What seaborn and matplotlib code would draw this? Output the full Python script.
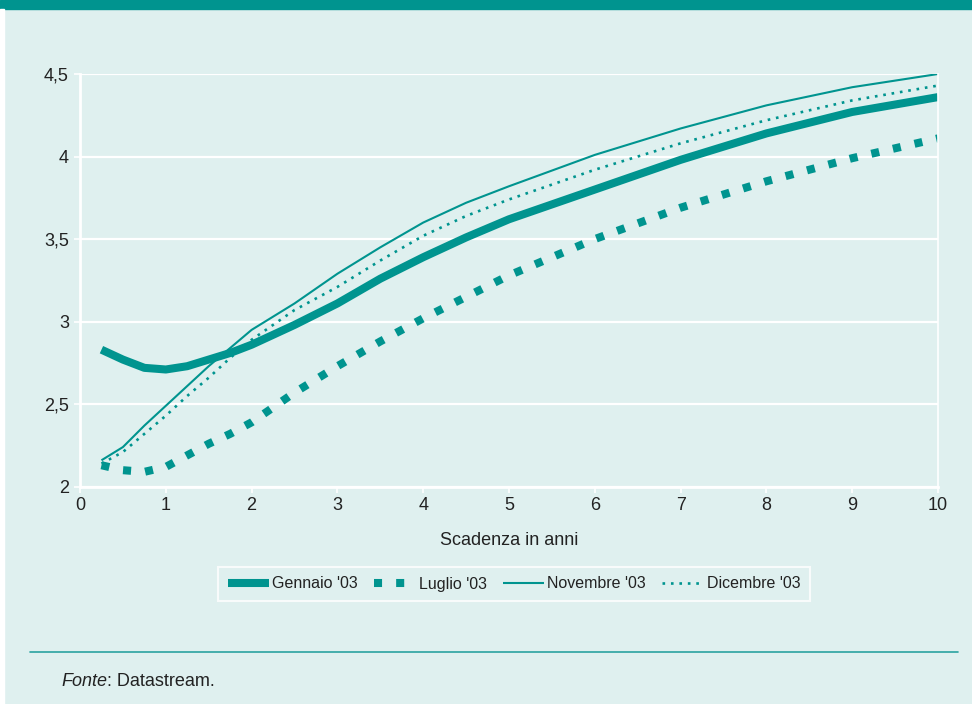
import pandas as pd
import seaborn as sns
import matplotlib.pyplot as plt
from matplotlib.patches import Rectangle
from matplotlib.lines import Line2D

# scadenze in anni
scadenze = [0.25, 0.5, 0.75, 1, 1.25, 1.5, 1.75, 2, 2.5, 3, 3.5, 4, 4.5, 5, 6, 7, 8, 9, 10]

gennaio = [2.83, 2.77, 2.72, 2.71, 2.73, 2.77, 2.81, 2.86, 2.98, 3.11, 3.26, 3.39, 3.51, 3.62, 3.80, 3.98, 4.14, 4.27, 4.36]
luglio = [2.13, 2.10, 2.09, 2.12, 2.19, 2.26, 2.32, 2.39, 2.57, 2.73, 2.88, 3.02, 3.15, 3.28, 3.50, 3.69, 3.85, 3.99, 4.11]
novembre = [2.16, 2.24, 2.37, 2.49, 2.61, 2.73, 2.84, 2.95, 3.11, 3.29, 3.45, 3.60, 3.72, 3.82, 4.01, 4.17, 4.31, 4.42, 4.50]
dicembre = [2.14, 2.21, 2.32, 2.43, 2.55, 2.66, 2.78, 2.89, 3.07, 3.21, 3.37, 3.52, 3.64, 3.74, 3.92, 4.08, 4.22, 4.34, 4.43]

etichette = ["Gennaio '03", "Luglio '03", "Novembre '03", "Dicembre '03"]
serie = [gennaio, luglio, novembre, dicembre]

teal = '#00948f'
bg = '#dff0ef'
txt = '#222222'

sns.set_style('white')
plt.rcParams['font.family'] = ['Liberation Sans', 'DejaVu Sans']

fig = plt.figure(figsize=(9.72, 7.04), dpi=100, facecolor=bg)
# banda in alto e striscia a sinistra
fig.patches.append(Rectangle((0, 1 - 9 / 704), 1, 9 / 704, transform=fig.transFigure, color=teal, zorder=0))
fig.patches.append(Rectangle((0, 0), 4 / 972, 1 - 9 / 704, transform=fig.transFigure, color='white', zorder=0))

ax = fig.add_axes([80 / 972, 1 - 486.7 / 704, (938 - 80) / 972, (486.7 - 74) / 704])
ax.set_facecolor(bg)

stili = [
    dict(lw=5.8, linestyle='-'),
    dict(lw=5.8, linestyle=(0, (1, 1.75))),
    dict(lw=1.5, linestyle='-'),
    dict(lw=1.9, linestyle=(0, (1, 2.2))),
]

for lab, vals, st in zip(etichette, serie, stili):
    df = pd.DataFrame({'x': scadenze, 'y': vals})
    sns.lineplot(data=df, x='x', y='y', ax=ax, color=teal, label=lab,
                 solid_capstyle='butt', **st)

ax.set_xlim(0, 10)
ax.set_ylim(2, 4.5)
ax.set_xticks(range(0, 11))
ax.set_yticks([2, 2.5, 3, 3.5, 4, 4.5])
ax.set_yticklabels(['2', '2,5', '3', '3,5', '4', '4,5'])
ax.grid(axis='y', color='white', lw=1.6)
ax.set_axisbelow(True)
for s in ['left', 'bottom']:
    ax.spines[s].set_color('white')
    ax.spines[s].set_linewidth(2)
ax.spines['right'].set_color('white')
ax.spines['right'].set_linewidth(1.2)
ax.spines['top'].set_visible(False)
ax.tick_params(axis='both', colors='white', labelcolor=txt, labelsize=13,
               length=4, width=1.2, direction='out', left=True, bottom=True)
ax.tick_params(axis='y', pad=4)
ax.set_xlabel('Scadenza in anni', fontsize=13, color=txt, labelpad=13)
ax.set_ylabel('')

handles = [Line2D([], [], color=teal, solid_capstyle='butt', **st) for st in stili]
leg = ax.legend(handles, etichette, ncol=4, loc='center', bbox_to_anchor=(514 / 972, 1 - 584 / 704),
                bbox_transform=fig.transFigure, fontsize=11.5, frameon=True, fancybox=False,
                handlelength=2.6, handletextpad=0.2, columnspacing=1.0, borderpad=0.6)
leg.get_frame().set_facecolor(bg)
leg.get_frame().set_edgecolor('white')
leg.get_frame().set_linewidth(1.5)
for t in leg.get_texts():
    t.set_color(txt)

# linea sopra la fonte
fig.add_artist(Line2D([30 / 972, 958 / 972], [1 - 652 / 704] * 2, transform=fig.transFigure, color='#2aa3a0', lw=1.2))
t1 = fig.text(61 / 972, 1 - 682 / 704, 'Fonte', style='italic', fontsize=13, color=txt, va='center')
fig.canvas.draw()
bb = t1.get_window_extent()
fig.text(bb.x1 / fig.bbox.width, 1 - 682 / 704, ': Datastream.', fontsize=13, color=txt, va='center')

fig.savefig('out.png', dpi=100, facecolor=bg)
